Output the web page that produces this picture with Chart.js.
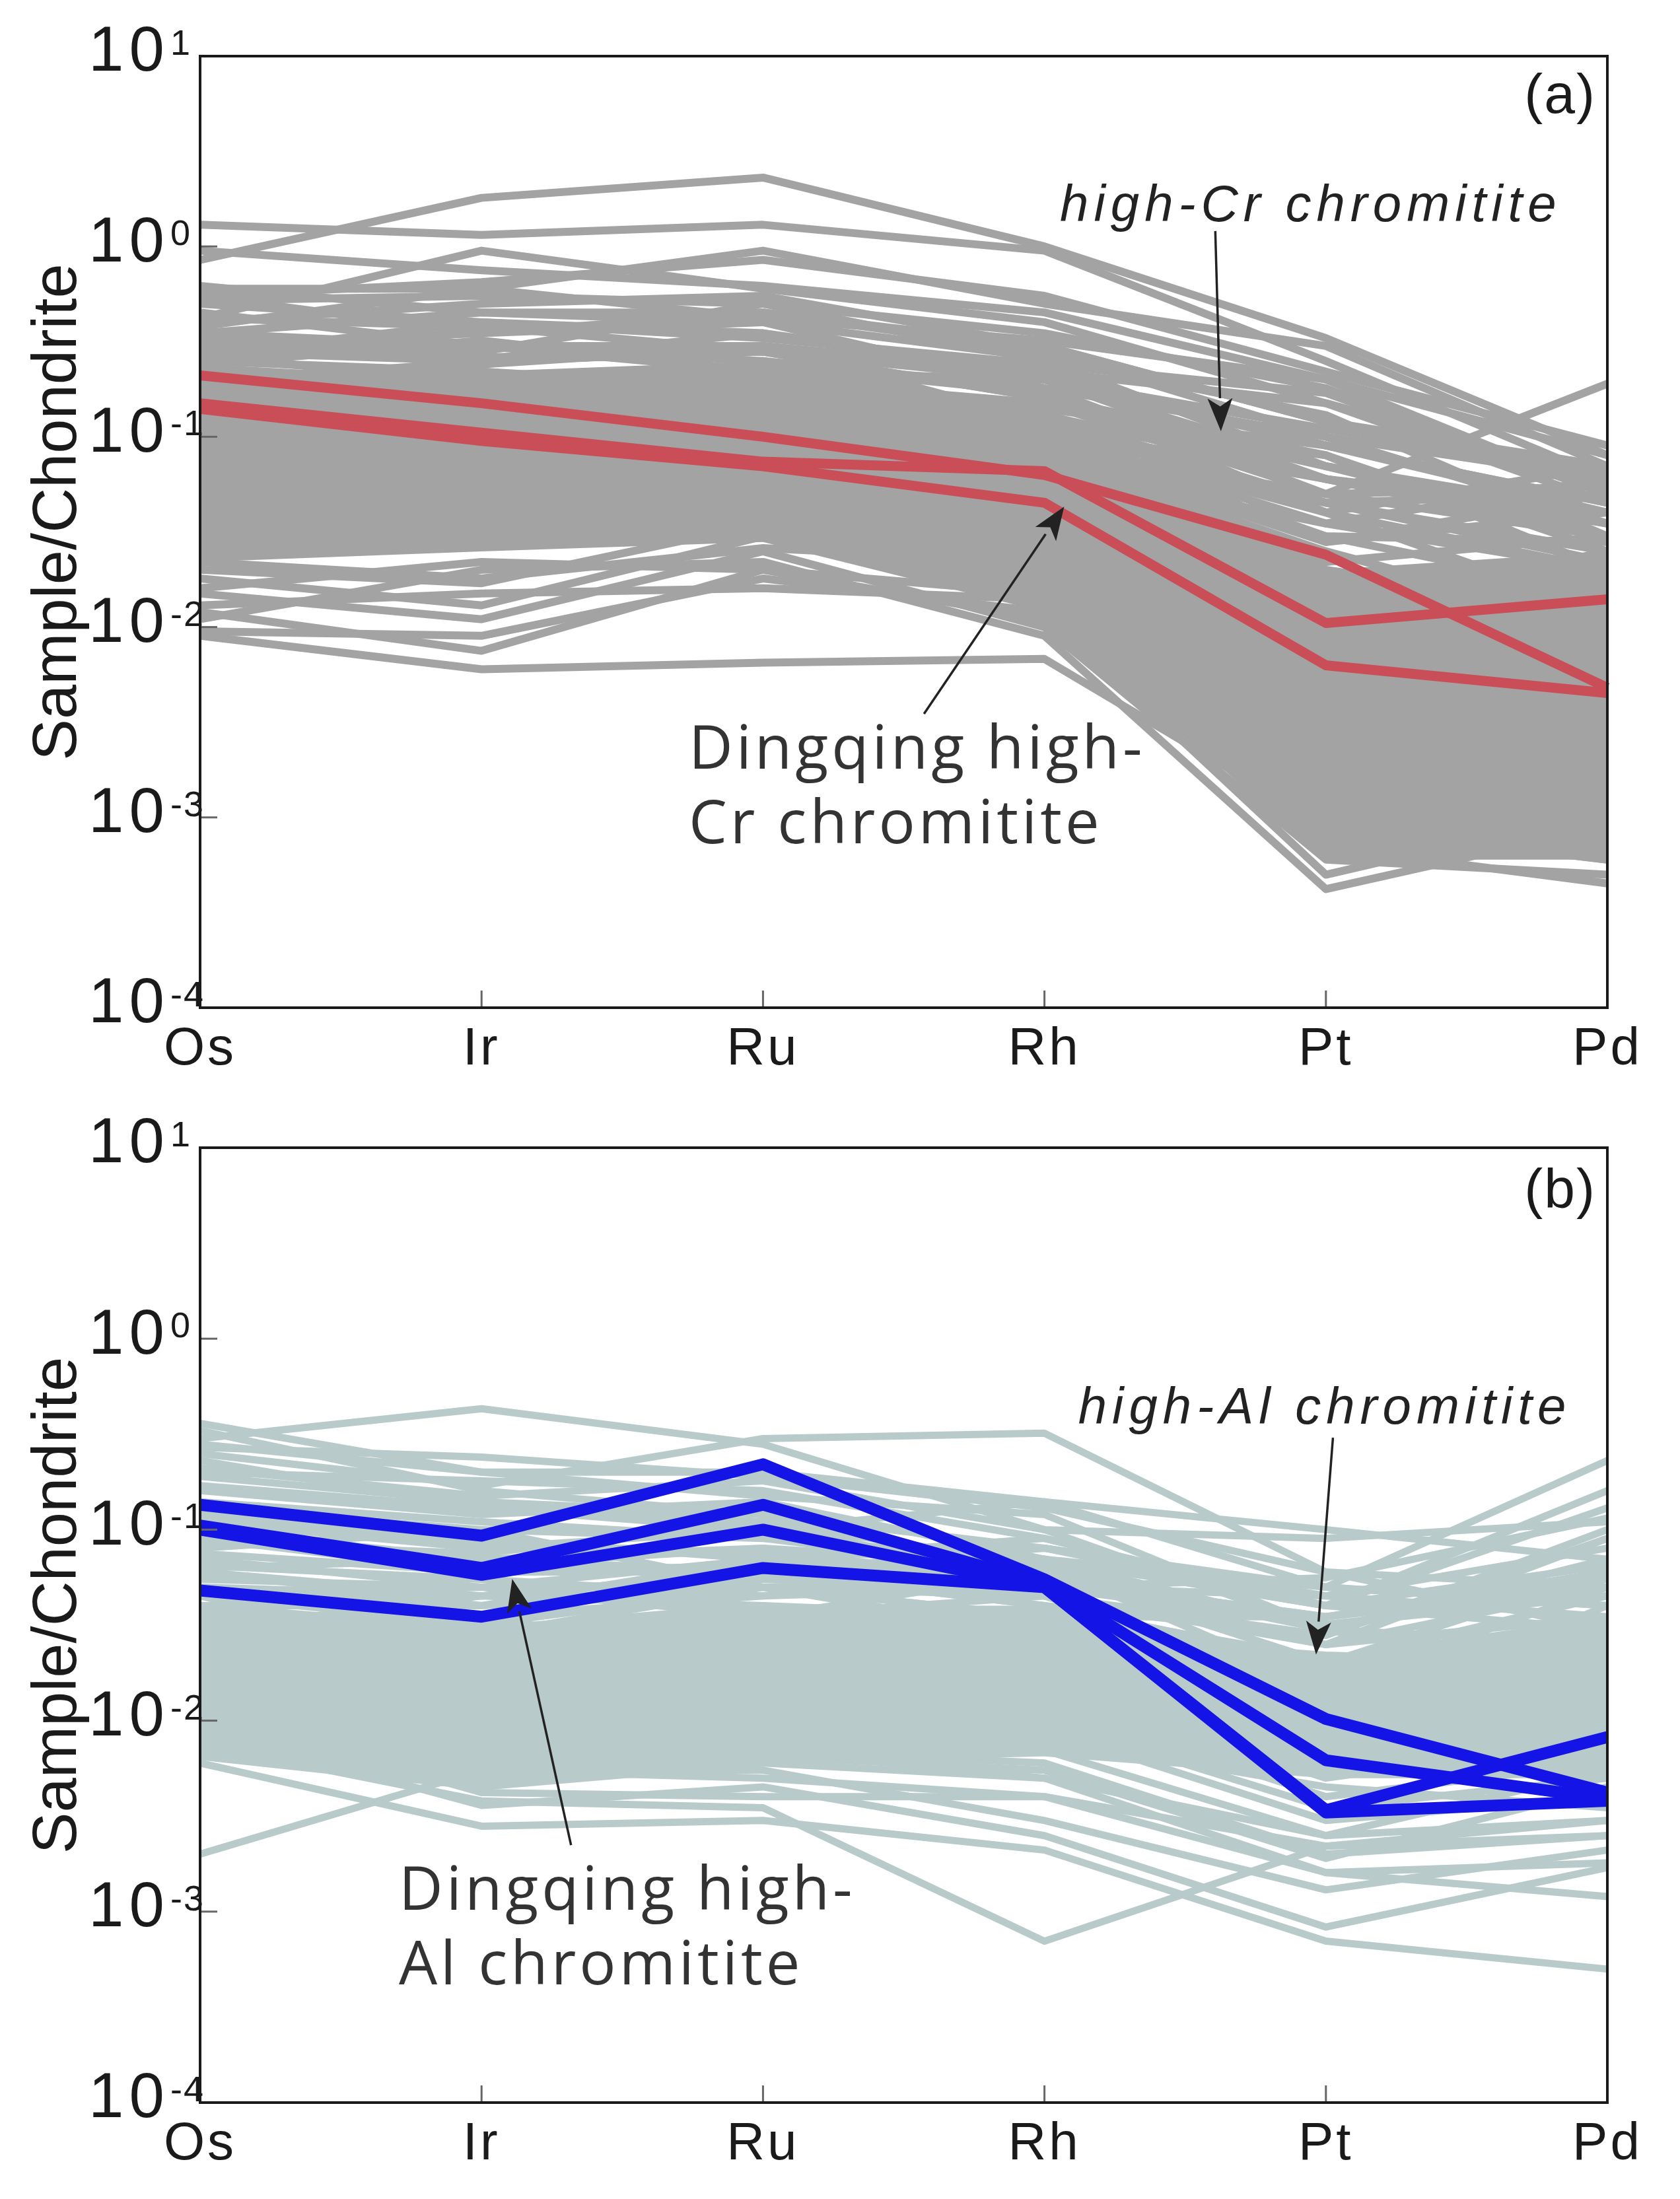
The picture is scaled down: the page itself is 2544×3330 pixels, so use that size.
<!DOCTYPE html>
<html>
<head>
<meta charset="utf-8">
<script src="https://cdn.jsdelivr.net/npm/chart.js@4.4.1/dist/chart.umd.min.js"></script>
<style>
html, body { margin: 0; padding: 0; background: #fff; }
canvas { display: block; }
</style>
</head>
<body>
<canvas id="panelA" width="2544" height="1665"></canvas>
<canvas id="panelB" width="2544" height="1665"></canvas>
<script>
// x categories and decade ticks (log axis)
var elements = ['Os', 'Ir', 'Ru', 'Rh', 'Pt', 'Pd'];
var decadeExps = [1, 0, -1, -2, -3, -4];

// (a) global high-Cr chromitites, values in order Os Ir Ru Rh Pt Pd
var highCrLines = [
  [0.85, 1.8, 2.3, 1.0, 0.33, 0.08],
  [1.3, 1.15, 1.3, 0.95, 0.25, 0.06],
  [0.95, 0.75, 0.62, 0.45, 0.2, 0.05],
  [0.42, 0.95, 0.6, 0.4, 0.15, 0.045],
  [0.6, 0.6, 0.95, 0.5, 0.3, 0.07],
  [0.55, 0.65, 0.85, 0.55, 0.22, 0.09],
  [0.52, 0.55, 0.5, 0.35, 0.18, 0.05],
  [0.4, 0.5, 0.55, 0.3, 0.12, 0.07],
  [0.35, 0.45, 0.4, 0.18, 0.05, 0.19],
  [0.3, 0.35, 0.45, 0.28, 0.1, 0.06],
  [0.45, 0.3, 0.3, 0.2, 0.09, 0.045],
  [0.5, 0.4, 0.35, 0.2, 0.06, 0.03],
  [0.28, 0.25, 0.35, 0.22, 0.15, 0.06],
  [0.25, 0.3, 0.25, 0.18, 0.1, 0.035],
  [0.62, 0.45, 0.45, 0.3, 0.12, 0.055],
  [0.32, 0.28, 0.5, 0.25, 0.07, 0.04],
  [0.42, 0.38, 0.28, 0.16, 0.08, 0.025],
  [0.38, 0.6, 0.42, 0.32, 0.2, 0.08],
  [0.55, 0.35, 0.4, 0.26, 0.13, 0.03],
  [0.27, 0.4, 0.33, 0.24, 0.17, 0.05],
  [0.2, 0.18, 0.22, 0.12, 0.04, 0.02],
  [0.18, 0.15, 0.2, 0.1, 0.03, 0.015],
  [0.15, 0.2, 0.16, 0.09, 0.05, 0.03],
  [0.12, 0.1, 0.14, 0.08, 0.02, 0.012],
  [0.1, 0.12, 0.1, 0.07, 0.035, 0.02],
  [0.09, 0.08, 0.12, 0.06, 0.015, 0.008],
  [0.08, 0.09, 0.08, 0.05, 0.012, 0.025],
  [0.07, 0.06, 0.09, 0.04, 0.008, 0.006],
  [0.06, 0.07, 0.06, 0.045, 0.01, 0.004],
  [0.05, 0.05, 0.07, 0.035, 0.005, 0.003],
  [0.045, 0.04, 0.05, 0.03, 0.003, 0.002],
  [0.04, 0.045, 0.04, 0.025, 0.002, 0.0015],
  [0.035, 0.03, 0.045, 0.02, 0.0015, 0.0012],
  [0.03, 0.035, 0.035, 0.018, 0.001, 0.001],
  [0.025, 0.028, 0.03, 0.015, 0.0007, 0.0007],
  [0.22, 0.12, 0.09, 0.05, 0.006, 0.005],
  [0.16, 0.07, 0.05, 0.03, 0.004, 0.0035],
  [0.13, 0.05, 0.04, 0.025, 0.0025, 0.005],
  [0.11, 0.035, 0.03, 0.02, 0.0012, 0.0025],
  [0.07, 0.11, 0.05, 0.03, 0.0009, 0.0006],
  [0.055, 0.15, 0.13, 0.08, 0.025, 0.01],
  [0.25, 0.22, 0.18, 0.15, 0.07, 0.035],
  [0.19, 0.25, 0.28, 0.16, 0.06, 0.04],
  [0.14, 0.13, 0.25, 0.13, 0.045, 0.025],
  [0.3, 0.26, 0.3, 0.12, 0.028, 0.05],
  [0.24, 0.32, 0.22, 0.2, 0.11, 0.065],
  [0.2, 0.16, 0.2, 0.13, 0.06, 0.03],
  [0.17, 0.22, 0.17, 0.11, 0.045, 0.05],
  [0.11, 0.14, 0.18, 0.1, 0.035, 0.06],
  [0.35, 0.3, 0.22, 0.14, 0.09, 0.04],
  [0.1, 0.09, 0.12, 0.09, 0.03, 0.028],
  [0.13, 0.17, 0.15, 0.12, 0.08, 0.02],
  [0.23, 0.19, 0.24, 0.17, 0.04, 0.012],
  [0.3, 0.25, 0.28, 0.2, 0.07, 0.03],
  [0.2, 0.24, 0.3, 0.22, 0.09, 0.045],
  [0.16, 0.18, 0.2, 0.15, 0.05, 0.055],
  [0.26, 0.2, 0.22, 0.1, 0.04, 0.07],
  [0.12, 0.15, 0.16, 0.11, 0.06, 0.035],
  [0.09, 0.1, 0.13, 0.09, 0.045, 0.022],
  [0.14, 0.12, 0.11, 0.085, 0.028, 0.04],
  [0.18, 0.14, 0.13, 0.07, 0.022, 0.03],
  [0.009, 0.006, 0.0065, 0.0068, 0.0009, 0.0006],
  [0.012, 0.0075, 0.02, 0.015, 0.001, 0.0008],
  [0.0095, 0.009, 0.018, 0.012, 0.0005, 0.0011],
  [0.015, 0.011, 0.025, 0.01, 0.0006, 0.0005],
  [0.013, 0.015, 0.016, 0.014, 0.0012, 0.0009],
  [0.011, 0.02, 0.022, 0.009, 0.00042, 0.0009],
  [0.018, 0.013, 0.03, 0.02, 0.0018, 0.0014],
  [0.02, 0.017, 0.035, 0.016, 0.0025, 0.0018],
  [0.016, 0.022, 0.02, 0.011, 0.0007, 0.00045],
  [0.022, 0.018, 0.026, 0.022, 0.003, 0.002]
];
// densest part of the high-Cr field (solid grey)
var highCrCoreUpper = [0.22, 0.22, 0.25, 0.14, 0.02, 0.025];
var highCrCoreLower = [0.022, 0.025, 0.028, 0.012, 0.0006, 0.0006];
// Dingqing high-Cr chromitites
var dingqingCr = [
  [0.21, 0.15, 0.1, 0.063, 0.024, 0.0048],
  [0.15, 0.105, 0.074, 0.066, 0.0105, 0.014],
  [0.14, 0.095, 0.07, 0.045, 0.0063, 0.0045]
];

// (b) global high-Al chromitites
var highAlLines = [
  [0.36, 0.2, 0.2, 0.14, 0.05, 0.04],
  [0.3, 0.43, 0.28, 0.1, 0.03, 0.02],
  [0.25, 0.17, 0.3, 0.32, 0.06, 0.05],
  [0.21, 0.15, 0.18, 0.1, 0.09, 0.11],
  [0.19, 0.14, 0.12, 0.08, 0.05, 0.23],
  [0.16, 0.12, 0.14, 0.07, 0.04, 0.16],
  [0.33, 0.16, 0.12, 0.06, 0.02, 0.012],
  [0.28, 0.2, 0.15, 0.12, 0.03, 0.015],
  [0.23, 0.13, 0.1, 0.055, 0.035, 0.06],
  [0.08, 0.1, 0.09, 0.06, 0.025, 0.09],
  [0.063, 0.07, 0.08, 0.05, 0.056, 0.115],
  [0.12, 0.09, 0.07, 0.045, 0.015, 0.05],
  [0.09, 0.06, 0.06, 0.04, 0.02, 0.03],
  [0.07, 0.05, 0.05, 0.035, 0.012, 0.02],
  [0.11, 0.08, 0.1, 0.14, 0.1, 0.07],
  [0.06, 0.045, 0.06, 0.08, 0.04, 0.045],
  [0.055, 0.05, 0.07, 0.06, 0.03, 0.06],
  [0.05, 0.04, 0.055, 0.05, 0.045, 0.08],
  [0.045, 0.032, 0.05, 0.045, 0.025, 0.035],
  [0.075, 0.06, 0.065, 0.055, 0.035, 0.05],
  [0.1, 0.07, 0.06, 0.04, 0.028, 0.1],
  [0.14, 0.11, 0.09, 0.07, 0.03, 0.025],
  [0.17, 0.13, 0.11, 0.065, 0.015, 0.018],
  [0.065, 0.055, 0.045, 0.07, 0.05, 0.04],
  [0.04, 0.04, 0.07, 0.09, 0.04, 0.065],
  [0.2, 0.18, 0.16, 0.09, 0.04, 0.13],
  [0.27, 0.24, 0.19, 0.13, 0.06, 0.03],
  [0.085, 0.075, 0.11, 0.05, 0.012, 0.007],
  [0.13, 0.1, 0.05, 0.035, 0.02, 0.045],
  [0.03, 0.045, 0.04, 0.035, 0.035, 0.055],
  [0.025, 0.028, 0.05, 0.028, 0.022, 0.02],
  [0.05, 0.045, 0.06, 0.07, 0.04, 0.03],
  [0.09, 0.065, 0.08, 0.065, 0.03, 0.07],
  [0.06, 0.04, 0.05, 0.055, 0.025, 0.05],
  [0.035, 0.035, 0.045, 0.05, 0.032, 0.045],
  [0.12, 0.085, 0.075, 0.08, 0.045, 0.035],
  [0.045, 0.05, 0.035, 0.045, 0.028, 0.09],
  [0.022, 0.03, 0.035, 0.06, 0.02, 0.06],
  [0.04, 0.03, 0.04, 0.03, 0.015, 0.025],
  [0.035, 0.025, 0.035, 0.025, 0.008, 0.015],
  [0.03, 0.02, 0.03, 0.02, 0.01, 0.04],
  [0.025, 0.018, 0.025, 0.02, 0.006, 0.01],
  [0.02, 0.015, 0.02, 0.015, 0.005, 0.008],
  [0.018, 0.012, 0.018, 0.012, 0.004, 0.006],
  [0.015, 0.01, 0.015, 0.01, 0.0035, 0.005],
  [0.012, 0.009, 0.012, 0.009, 0.003, 0.004],
  [0.01, 0.007, 0.01, 0.008, 0.0045, 0.0035],
  [0.008, 0.006, 0.008, 0.007, 0.0025, 0.003],
  [0.007, 0.005, 0.007, 0.006, 0.002, 0.0025],
  [0.0065, 0.0045, 0.006, 0.005, 0.0016, 0.0018],
  [0.045, 0.02, 0.015, 0.018, 0.009, 0.02],
  [0.028, 0.035, 0.02, 0.03, 0.02, 0.012],
  [0.014, 0.02, 0.03, 0.012, 0.007, 0.03],
  [0.012, 0.006, 0.007, 0.005, 0.0025, 0.0055],
  [0.0075, 0.0045, 0.0065, 0.0055, 0.0019, 0.0045],
  [0.002, 0.0055, 0.005, 0.004, 0.0022, 0.003],
  [0.006, 0.0028, 0.003, 0.0021, 0.0007, 0.0005],
  [0.0075, 0.0038, 0.0035, 0.0007, 0.0022, 0.0025],
  [0.009, 0.0036, 0.0045, 0.0025, 0.00083, 0.0017],
  [0.011, 0.0042, 0.004, 0.004, 0.0016, 0.0012],
  [0.0085, 0.0055, 0.0055, 0.003, 0.0013, 0.0021]
];
var highAlCoreUpper = [0.04, 0.03, 0.04, 0.04, 0.022, 0.035];
var highAlCoreLower = [0.0065, 0.0045, 0.006, 0.0065, 0.005, 0.005];
var dingqingAl = [
  [0.135, 0.093, 0.22, 0.055, 0.0102, 0.0042],
  [0.105, 0.063, 0.135, 0.052, 0.0062, 0.0039],
  [0.1, 0.058, 0.1, 0.05, 0.0034, 0.0082],
  [0.048, 0.035, 0.063, 0.05, 0.0033, 0.0038]
];

function lineSet(rows, color, width) {
  return rows.map(function (r) {
    return { data: r, borderColor: color, borderWidth: width, pointRadius: 0,
             fill: false, tension: 0, borderJoinStyle: 'round' };
  });
}

var decor = {
  id: 'decor',
  afterDraw: function (chart, args, o) {
    var ctx = chart.ctx, a = chart.chartArea;
    var xs = chart.scales.x, ys = chart.scales.y;
    function px(i) { return xs.getPixelForValue(i); }
    function py(v) { return ys.getPixelForValue(v); }
    ctx.save();
    // ticks
    ctx.strokeStyle = '#666';
    ctx.lineWidth = 3;
    decadeExps.forEach(function (e) {
      if (e === 1 || e === -4) return;
      var y = py(Math.pow(10, e));
      ctx.beginPath(); ctx.moveTo(a.left, y); ctx.lineTo(a.left + 26, y); ctx.stroke();
    });
    for (var i = 1; i < elements.length - 1; i++) {
      ctx.beginPath(); ctx.moveTo(px(i), a.bottom); ctx.lineTo(px(i), a.bottom - 26); ctx.stroke();
    }
    // frame
    ctx.strokeStyle = '#1a1a1a';
    ctx.lineWidth = 4;
    ctx.strokeRect(a.left, a.top, a.right - a.left, a.bottom - a.top);
    // y tick labels 10^n
    ctx.fillStyle = '#1a1a1a';
    decadeExps.forEach(function (e) {
      var y = py(Math.pow(10, e));
      ctx.font = '96px "Liberation Sans"';
      ctx.letterSpacing = '8px';
      ctx.textAlign = 'left';
      ctx.textBaseline = 'middle';
      ctx.fillText('10', 134, y - 4);
      ctx.font = '54px "Liberation Sans"';
      ctx.letterSpacing = '2px';
      ctx.textBaseline = 'alphabetic';
      ctx.fillText(String(e), 258, y - 2);
    });
    // x labels
    ctx.font = '80px "Liberation Sans"';
    ctx.letterSpacing = '4px';
    ctx.textAlign = 'center';
    ctx.textBaseline = 'middle';
    elements.forEach(function (el, i) { ctx.fillText(el, px(i), a.bottom + 64); });
    // y title
    ctx.save();
    ctx.translate(89, (a.top + a.bottom) / 2 - 30);
    ctx.rotate(-Math.PI / 2);
    ctx.font = '94px "Liberation Sans"';
    ctx.letterSpacing = '0px';
    ctx.fillText('Sample/Chondrite', 0, 0);
    ctx.restore();
    // panel letter
    ctx.font = '84px "Liberation Sans"';
    ctx.letterSpacing = '2px';
    ctx.textAlign = 'right';
    ctx.fillText(o.letter[0], px(o.letter[1]), py(o.letter[2]));
    // italic field name
    ctx.font = 'italic 78px "Liberation Sans"';
    ctx.letterSpacing = '8px';
    ctx.textAlign = 'left';
    ctx.fillStyle = '#222';
    ctx.fillText(o.field[0], px(o.field[1]), py(o.field[2]));
    // Dingqing label
    ctx.font = '92px "Open Sans"';
    ctx.letterSpacing = '5px';
    ctx.fillStyle = '#333';
    o.local.forEach(function (t) { ctx.fillText(t[0], px(t[1]), py(t[2])); });
    // arrows
    ctx.letterSpacing = '0px';
    ctx.strokeStyle = '#222';
    ctx.fillStyle = '#222';
    ctx.lineWidth = 3.5;
    o.arrows.forEach(function (ar) {
      var x0 = px(ar[0]), y0 = py(ar[1]), x1 = px(ar[2]), y1 = py(ar[3]);
      var ang = Math.atan2(y1 - y0, x1 - x0), L = 50, W = 19;
      var bx = x1 - L * Math.cos(ang), by = y1 - L * Math.sin(ang);
      ctx.beginPath(); ctx.moveTo(x0, y0); ctx.lineTo(bx, by); ctx.stroke();
      ctx.beginPath();
      ctx.moveTo(x1, y1);
      ctx.lineTo(bx + W * Math.sin(ang), by - W * Math.cos(ang));
      ctx.lineTo(bx + 0.25 * L * Math.cos(ang), by + 0.25 * L * Math.sin(ang));
      ctx.lineTo(bx - W * Math.sin(ang), by + W * Math.cos(ang));
      ctx.closePath(); ctx.fill();
    });
    ctx.restore();
  }
};

function makePanel(id, pad, lines, lineColor, lineW, hi, hiColor, hiW, coreUp, coreLo, notes) {
  var sets = lineSet(hi, hiColor, hiW).concat(lineSet(lines, lineColor, lineW));
  sets.push({ data: coreUp, borderWidth: 0, pointRadius: 0, backgroundColor: lineColor, fill: '+1' });
  sets.push({ data: coreLo, borderWidth: 0, pointRadius: 0, fill: false });
  return new Chart(document.getElementById(id), {
    type: 'line',
    data: { labels: elements, datasets: sets },
    options: {
      responsive: false,
      devicePixelRatio: 1,
      animation: false,
      layout: { padding: pad },
      plugins: { legend: { display: false }, tooltip: { enabled: false }, decor: notes },
      scales: {
        x: { type: 'category', display: false, offset: false },
        y: { type: 'logarithmic', display: false, min: 1e-4, max: 10 }
      }
    },
    plugins: [decor]
  });
}

makePanel('panelA', { left: 303, right: 110, top: 85, bottom: 139 },
  highCrLines, '#a3a3a3', 12, dingqingCr, '#c94e58', 15,
  highCrCoreUpper, highCrCoreLower, {
    letter: ['(a)', 4.96, 6.03],
    field: ['high-Cr chromitite', 3.055, 1.61],
    local: [['Dingqing high-', 1.736, 0.00222], ['Cr chromitite', 1.736, 0.000904]],
    arrows: [[3.607, 1.205, 3.627, 0.107], [2.572, 0.0035, 3.07, 0.0429]]
  });

makePanel('panelB', { left: 303, right: 110, top: 73, bottom: 146 },
  highAlLines, '#b9caca', 11, dingqingAl, '#1414e6', 18,
  highAlCoreUpper, highAlCoreLower, {
    letter: ['(b)', 4.96, 5.82],
    field: ['high-Al chromitite', 3.12, 0.4256],
    local: [['Dingqing high-', 0.706, 0.00126], ['Al chromitite', 0.706, 0.000513]],
    arrows: [[4.025, 0.303, 3.965, 0.0222], [1.318, 0.00223, 1.109, 0.0552]]
  });
</script>
</body>
</html>
